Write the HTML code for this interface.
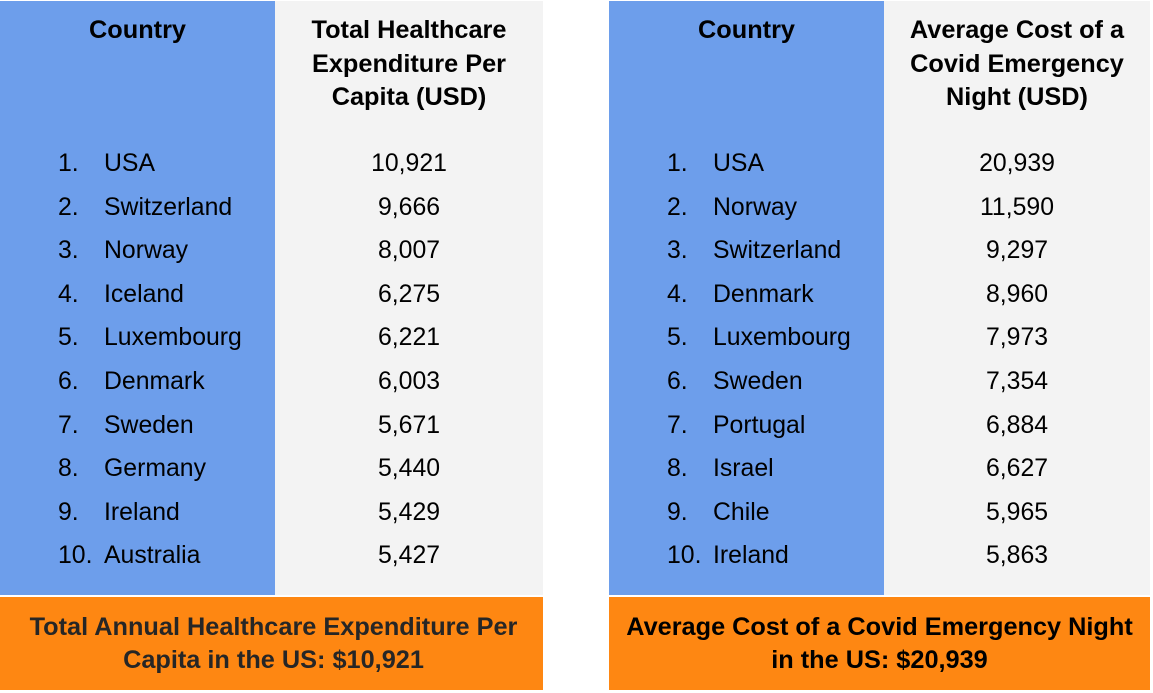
<!DOCTYPE html>
<html><head><meta charset="utf-8"><style>
body{margin:0;width:1153px;height:693px;background:#fff;position:relative;overflow:hidden;font-family:"Liberation Sans",Arial,sans-serif;}
.b{position:absolute;}
.blue{background:#6d9eeb;}
.gray{background:#f3f3f3;}
.orange{background:#fe8712;}
.hd{position:absolute;font-weight:bold;font-size:25.3px;line-height:33.5px;text-align:center;color:#000;}
.t{position:absolute;font-size:24.8px;line-height:24px;color:#000;white-space:nowrap;}
.ft{position:absolute;font-weight:bold;font-size:25.3px;line-height:33px;text-align:center;white-space:nowrap;}
</style></head><body>
<div class="b blue" style="left:0;top:1px;width:275px;height:594px"></div>
<div class="b gray" style="left:275px;top:1px;width:268px;height:594px"></div>
<div class="b orange" style="left:0;top:597px;width:543px;height:93px"></div>
<div class="b blue" style="left:609px;top:1px;width:275px;height:594px"></div>
<div class="b gray" style="left:884px;top:1px;width:266px;height:594px"></div>
<div class="b orange" style="left:609px;top:597px;width:541px;height:93px"></div>

<div class="hd" style="left:0;width:275px;top:14px">Country</div>
<div class="hd" style="left:275px;width:268px;top:14px">Total Healthcare<br>Expenditure Per<br>Capita (USD)</div>
<div class="hd" style="left:609px;width:275px;top:14px">Country</div>
<div class="hd" style="left:884px;width:266px;top:14px">Average Cost of a<br>Covid Emergency<br>Night (USD)</div>

<div class="ft" style="left:0;width:547px;top:611px;color:#262626">Total Annual Healthcare Expenditure Per<br>Capita in the US: $10,921</div>
<div class="ft" style="left:609px;width:541px;top:611px;color:#000">Average Cost of a Covid Emergency Night<br>in the US: $20,939</div>

<div id="rows"></div>
<script>
const leftCountries=["USA","Switzerland","Norway","Iceland","Luxembourg","Denmark","Sweden","Germany","Ireland","Australia"];
const leftValues=["10,921","9,666","8,007","6,275","6,221","6,003","5,671","5,440","5,429","5,427"];
const rightCountries=["USA","Norway","Switzerland","Denmark","Luxembourg","Sweden","Portugal","Israel","Chile","Ireland"];
const rightValues=["20,939","11,590","9,297","8,960","7,973","7,354","6,884","6,627","5,965","5,863"];
const root=document.getElementById('rows');
function add(txt,style,name){
  const d=document.createElement('div');
  d.className='t';
  d.textContent=txt;
  d.style.cssText=style;
  
  
  root.appendChild(d);
}
function table(countries,values,x0,vx,vw,side){
  for(let i=0;i<countries.length;i++){
    const y=152+i*43.6;
    add((i+1)+'.','left:'+(x0+58)+'px;top:'+y+'px',side+'-rank');
    add(countries[i],'left:'+(x0+104)+'px;top:'+y+'px',side+'-country');
    add(values[i],'left:'+vx+'px;width:'+vw+'px;text-align:center;top:'+y+'px',side+'-value');
  }
}
table(leftCountries,leftValues,0,275,268,'left');
table(rightCountries,rightValues,609,884,266,'right');
</script>
</body></html>
